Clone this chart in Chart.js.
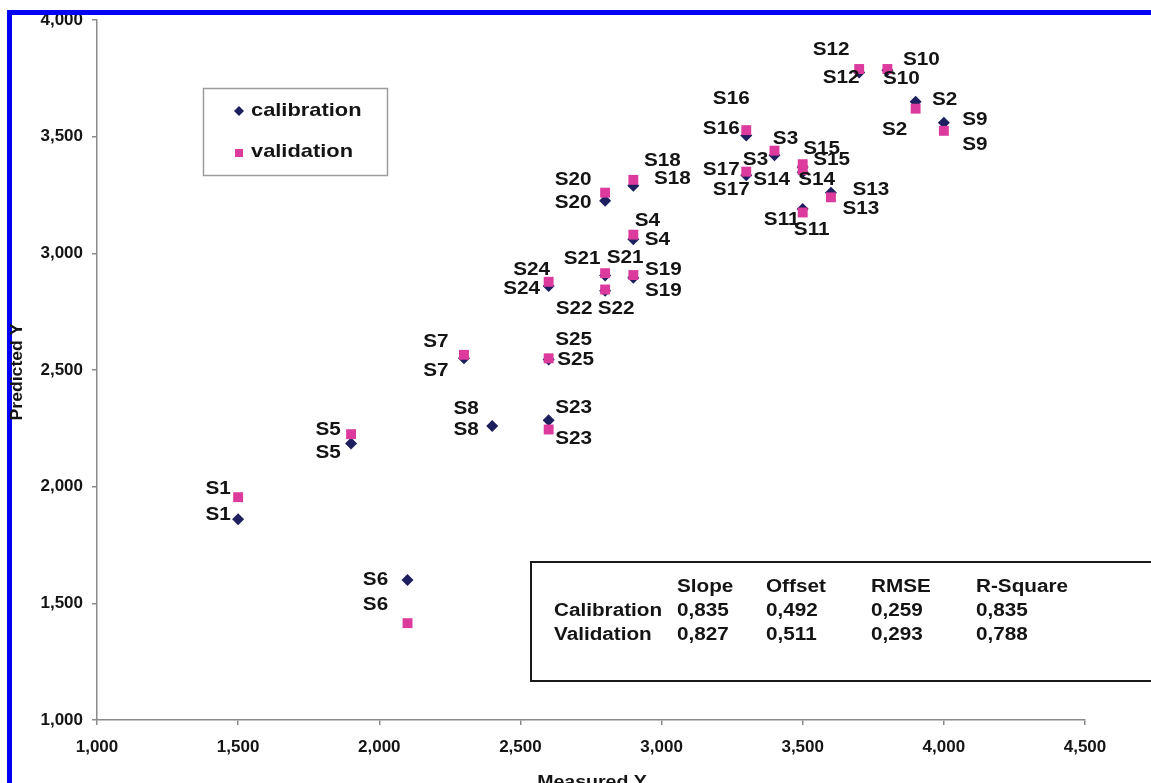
<!DOCTYPE html>
<html>
<head>
<meta charset="utf-8">
<script src="https://cdn.jsdelivr.net/npm/chart.js@4/dist/chart.umd.min.js"></script>
<style>
  html, body { margin: 0; padding: 0; background: #fff; }
  #wrap { width: 1151px; height: 783px; position: relative; }
</style>
</head>
<body>
<div id="wrap"><canvas id="c"></canvas></div>
<script>
// Sample names and measured / predicted values
const sampleNames = ['S1','S2','S3','S4','S5','S6','S7','S8','S9','S10','S11','S12','S13',
                     'S14','S15','S16','S17','S18','S19','S20','S21','S22','S23','S24','S25'];
const measuredY = [1500, 3900, 3400, 2900, 1900, 2100, 2300, 2400, 4000, 3800, 3500, 3700, 3600,
                   3500, 3500, 3300, 3300, 2900, 2900, 2800, 2800, 2800, 2600, 2600, 2600];
const calibrationPredicted = [1860, 3650, 3420, 3060, 2185, 1600, 2550, 2260, 3560, 3785, 3190, 3775, 3260,
                              3348, 3370, 3505, 3335, 3290, 2895, 3225, 2905, 2840, 2285, 2860, 2545];
const validationPredicted = [1955, 3620, 3440, 3080, 2225, 1415, 2565, null, 3525, 3790, 3175, 3790, 3240,
                             3357, 3382, 3528, 3350, 3315, 2907, 3260, 2915, 2845, 2245, 2878, 2550];

// Axis ranges / tick step
const xRange = [1000, 4500];
const yRange = [1000, 4000];
const tickStep = 500;

// Statistics table
const statHeaders = ['Slope', 'Offset', 'RMSE', 'R-Square'];
const statRows = ['Calibration', 'Validation'];
const calibrationStats = ['0,835', '0,492', '0,259', '0,835'];
const validationStats = ['0,827', '0,511', '0,293', '0,788'];

// Label placement: text centre offset (px) from its marker
const calLabelOffsets = [[-20,-4],[29,-2],[-19,5],[24,1],[-23,10],[-32,0],[-28,13],[-26,4],[31,-3],[14,9],
  [-21,11],[-18,6],[40,-3],[-31,8],[29,-7],[-25,-6],[-15,15],[39,-7],[30,13],[-32,2],[20,-17],[11,18],
  [25,-12],[-27,3],[27,1]];
const valLabelOffsets = [[-20,-8],[-21,21],[11,-12],[14,-14],[-23,-4],[-32,-18],[-28,-13],[-26,-17],[31,14],[34,-9],
  [9,18],[-28,-19],[30,12],[14,10],[19,-15],[-15,-31],[-25,-2],[29,-19],[30,-5],[-32,-13],[-23,-14],[-31,20],
  [25,10],[-17,-12],[25,-18]];

const CAL_COLOR = '#1d1f5e';
const VAL_COLOR = '#dd3a9e';
const FONT = '"Liberation Sans", Arial, sans-serif';

const calPoints = measuredY.map((x, i) => ({ x, y: calibrationPredicted[i] }));
const valPoints = measuredY.map((x, i) => ({ x, y: validationPredicted[i] }));

function wideText(ctx, text, x, y, size, align, sx) {
  ctx.save();
  ctx.font = 'bold ' + size + 'px ' + FONT;
  ctx.textAlign = align || 'left';
  ctx.textBaseline = 'middle';
  ctx.translate(x, y);
  ctx.scale(sx || 1.15, 1);
  ctx.fillText(text, 0, 0);
  ctx.restore();
}

const decorations = {
  id: 'decorations',
  beforeDraw(chart) {
    const ctx = chart.ctx;
    ctx.save();
    ctx.fillStyle = '#ffffff';
    ctx.fillRect(0, 0, chart.width, chart.height);
    ctx.restore();
  },
  afterDatasetsDraw(chart) {
    const ctx = chart.ctx;
    const xs = chart.scales.x, ys = chart.scales.y;
    ctx.save();
    ctx.fillStyle = '#141414';
    sampleNames.forEach((name, i) => {
      const px = xs.getPixelForValue(measuredY[i]);
      const pc = ys.getPixelForValue(calibrationPredicted[i]);
      wideText(ctx, name, px + calLabelOffsets[i][0], pc + calLabelOffsets[i][1], 18, 'center');
      const v = validationPredicted[i];
      const pv = v === null ? pc : ys.getPixelForValue(v);
      wideText(ctx, name, px + valLabelOffsets[i][0], pv + valLabelOffsets[i][1], 18, 'center');
    });
    ctx.restore();
  },
  afterDraw(chart) {
    const ctx = chart.ctx;
    ctx.save();
    // blue frame edges
    ctx.fillStyle = '#0000f5';
    ctx.fillRect(7, 10, chart.width - 7, 5);
    ctx.fillRect(7, 10, 5, chart.height - 10);

    // legend box
    ctx.strokeStyle = '#9c9c9c';
    ctx.lineWidth = 1.5;
    ctx.strokeRect(203.5, 88.5, 184, 87);
    const ds = chart.data.datasets;
    ctx.fillStyle = ds[0].backgroundColor;
    ctx.beginPath();
    ctx.moveTo(239, 106); ctx.lineTo(244, 111); ctx.lineTo(239, 116); ctx.lineTo(234, 111);
    ctx.closePath(); ctx.fill();
    ctx.fillStyle = ds[1].backgroundColor;
    ctx.fillRect(235, 149, 8, 8);
    ctx.fillStyle = '#141414';
    wideText(ctx, ds[0].label, 251, 111, 19, 'left');
    wideText(ctx, ds[1].label, 251, 152, 19, 'left');

    // statistics table
    ctx.strokeStyle = '#1a1a1a';
    ctx.lineWidth = 2;
    ctx.strokeRect(531, 562, 700, 119);
    const colX = [677, 766, 871, 976];
    statHeaders.forEach((h, j) => wideText(ctx, h, colX[j], 587, 18, 'left'));
    wideText(ctx, statRows[0], 554, 611, 18, 'left');
    wideText(ctx, statRows[1], 554, 635, 18, 'left');
    calibrationStats.forEach((s, j) => wideText(ctx, s, colX[j], 611, 18, 'left'));
    validationStats.forEach((s, j) => wideText(ctx, s, colX[j], 635, 18, 'left'));

    // axis titles
    wideText(ctx, 'Measured Y', 592, 782, 17, 'center');
    ctx.save();
    ctx.translate(18, 372);
    ctx.rotate(-Math.PI / 2);
    wideText(ctx, 'Predicted Y', 0, 0, 16, 'center', 1.1);
    ctx.restore();
    ctx.restore();
  }
};

new Chart(document.getElementById('c'), {
  type: 'scatter',
  data: {
    datasets: [
      {
        label: 'calibration',
        data: calPoints,
        pointStyle: 'rectRot',
        pointRadius: 6,
        pointHoverRadius: 6,
        backgroundColor: CAL_COLOR,
        borderColor: CAL_COLOR,
        borderWidth: 0,
        order: 1
      },
      {
        label: 'validation',
        data: valPoints,
        pointStyle: 'rect',
        pointRadius: 7,
        pointHoverRadius: 7,
        backgroundColor: VAL_COLOR,
        borderColor: VAL_COLOR,
        borderWidth: 0,
        order: 0
      }
    ]
  },
  options: {
    responsive: true,
    maintainAspectRatio: false,
    animation: false,
    locale: 'en-US',
    layout: { padding: { top: 20, right: 66, left: 0, bottom: 0 } },
    plugins: { legend: { display: false }, tooltip: { enabled: false } },
    scales: {
      x: {
        type: 'linear',
        min: xRange[0], max: xRange[1],
        afterFit(scale) { scale.height = 63; },
        ticks: { stepSize: tickStep, color: '#141414', padding: 12,
                 font: { family: FONT, size: 17, weight: 'bold' } },
        grid: { drawOnChartArea: false, drawTicks: true, tickLength: 5, color: '#8a8a8a', lineWidth: 1.5 },
        border: { display: true, color: '#8a8a8a', width: 1.5 }
      },
      y: {
        type: 'linear',
        min: yRange[0], max: yRange[1],
        afterFit(scale) { scale.width = 97; },
        ticks: { stepSize: tickStep, color: '#141414', padding: 9,
                 font: { family: FONT, size: 17, weight: 'bold' } },
        grid: { drawOnChartArea: false, drawTicks: true, tickLength: 5, color: '#8a8a8a', lineWidth: 1.5 },
        border: { display: true, color: '#8a8a8a', width: 1.5 }
      }
    }
  },
  plugins: [decorations]
});
</script>
</body>
</html>
